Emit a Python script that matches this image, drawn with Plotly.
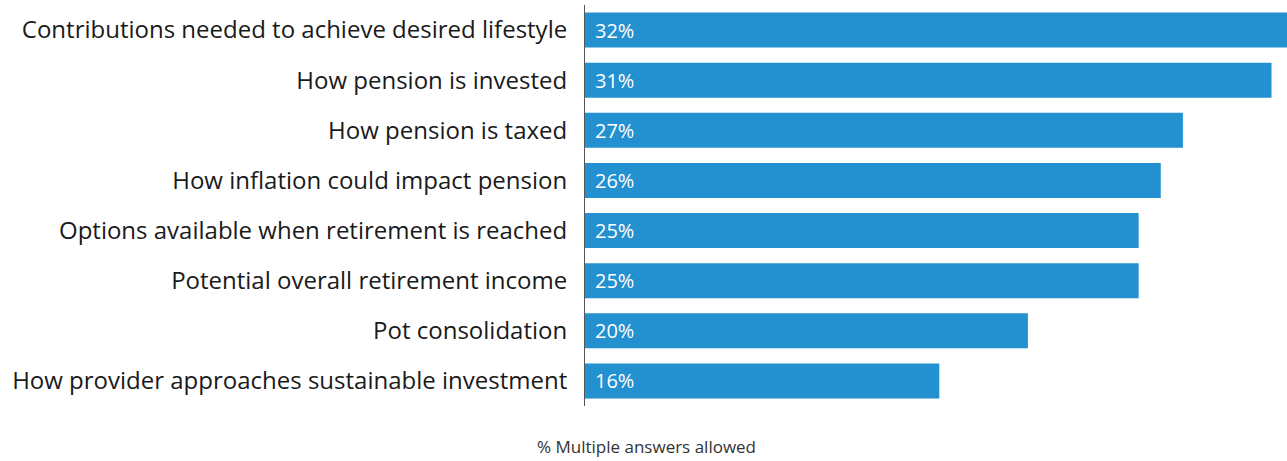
import plotly.graph_objects as go

categories = [
    "Contributions needed to achieve desired lifestyle",
    "How pension is invested",
    "How pension is taxed",
    "How inflation could impact pension",
    "Options available when retirement is reached",
    "Potential overall retirement income",
    "Pot consolidation",
    "How provider approaches sustainable investment",
]
values = [32, 31, 27, 26, 25, 25, 20, 16]
value_labels = [f"{v}%" for v in values]
axis_note = "% Multiple answers allowed"

BAR_COLOR = "#2390CF"
FONT = "Open Sans"

fig = go.Figure(
    go.Bar(
        x=values,
        y=categories,
        orientation="h",
        marker=dict(color=BAR_COLOR, line=dict(width=0)),
        hoverinfo="skip",
    )
)

# value labels just inside the left end of each bar
for cat, lab in zip(categories, value_labels):
    fig.add_annotation(
        x=0, y=cat, xref="x", yref="y",
        text=lab, showarrow=False,
        xanchor="left", xshift=8,
        font=dict(family=FONT, size=20, color="white"),
    )

fig.add_annotation(
    x=0.088, y=-0.1, xref="paper", yref="paper",
    text=axis_note, showarrow=False,
    xanchor="center", yanchor="middle",
    font=dict(family=FONT, size=17, color="#333333"),
)

fig.update_layout(
    width=1287, height=461,
    margin=dict(l=585, r=0, t=5, b=55),
    paper_bgcolor="white", plot_bgcolor="white",
    bargap=0.3,
    showlegend=False,
    font=dict(family=FONT, color="#1a1a1a"),
)
fig.update_xaxes(
    range=[0, 31.7], visible=False, fixedrange=True,
)
fig.update_yaxes(
    autorange="reversed",
    showline=True, linecolor="#555555", linewidth=1,
    showgrid=False, ticks="", ticklabelstandoff=12,
    tickfont=dict(family=FONT, size=24, color="#1a1a1a"),
)

fig.write_html("out.html")
